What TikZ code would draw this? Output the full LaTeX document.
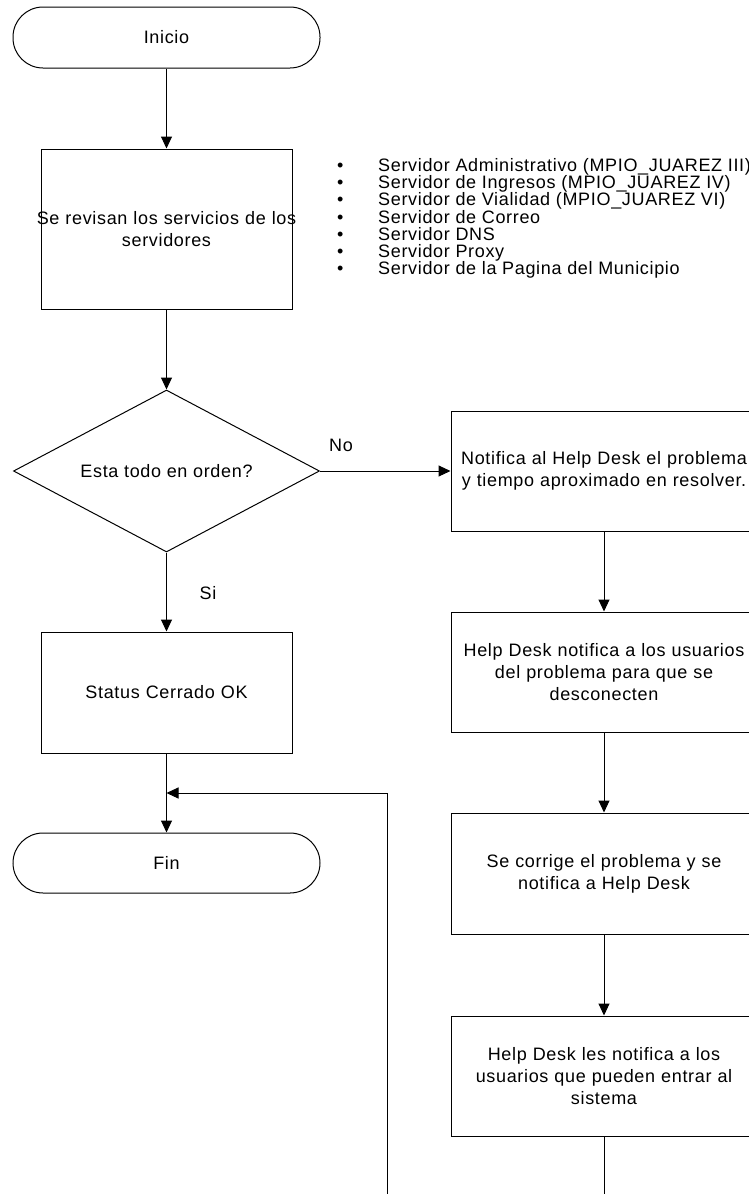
\documentclass[tikz,border=0pt]{standalone}
\usepackage{fontspec}
\setmainfont{Liberation Sans}[LetterSpace=3.7]
\usetikzlibrary{shapes.geometric,arrows.meta}
\begin{document}
\begin{tikzpicture}[x=1pt,y=-1pt,
  every node/.style={font=\fontsize{18pt}{22pt}\selectfont, inner sep=0pt},
  line/.style={line width=1pt, draw=black},
  arr/.style={line, -{Triangle[width=11pt,length=12pt]}},
  term/.style={draw, line width=1pt, rectangle, rounded corners=30pt, minimum width=307pt, minimum height=61pt},
  proc/.style={draw, line width=1pt, rectangle, align=center, minimum height=#1},
  lproc/.style={proc=#1, text width=251pt},
  rproc/.style={proc=#1, text width=306pt},
  dec/.style={draw, line width=1pt, diamond, aspect=1.89, minimum width=306pt, minimum height=162pt}]
\clip (0,0) rectangle (749,1194);
\fill[white] (0,0) rectangle (749,1194);
% left column
\node[term] (inicio) at (166.5,37.5) {Inicio};
\node[lproc=160pt] (revisa) at (166.5,229) {\makebox[0pt]{Se revisan los servicios de los}\\servidores};
\node[dec] (dec) at (166.5,471) {Esta todo en orden?};
\node[lproc=121pt] (status) at (166.5,692.5) {Status Cerrado OK};
\node[term, minimum height=60pt] (fin) at (166.5,863) {Fin};
% right column
\node[rproc=120pt] (n1) at (604,471) {Notifica al Help Desk el problema\\y tiempo aproximado en resolver.};
\node[rproc=120pt] (n2) at (604,672) {Help Desk notifica a los usuarios\\del problema para que se\\desconecten};
\node[rproc=121pt] (n3) at (604,873.5) {Se corrige el problema y se\\notifica a Help Desk};
\node[rproc=120pt] (n4) at (604,1076) {Help Desk les notifica a los\\usuarios que pueden entrar al\\sistema};
% labels
\node (no) at (341,445) {No};
\node (si) at (208,593) {Si};
% bullet list
\foreach \t [count=\i] in {{Servidor Administrativo (MPIO\_JUAREZ III)},{Servidor de Ingresos (MPIO\_JUAREZ IV)},{Servidor de Vialidad (MPIO\_JUAREZ VI)},{Servidor de Correo},{Servidor DNS},{Servidor Proxy},{Servidor de la Pagina del Municipio}}
  \node[anchor=base west] (b\i) at (337,{171.5+17.2*(\i-1)}) {\makebox[41pt][l]{•}\t};
% coordinates
\coordinate (merge) at (166.5,793);
\coordinate (loopend) at (387,1200);
\coordinate (n4end) at (604,1200);
% connectors
\draw[arr] (inicio) -- (revisa);
\draw[arr] (revisa) -- (dec);
\draw[arr] (dec.east) -- (n1.west);
\draw[arr] (dec.south) -- (status.north);
\draw[arr] (status) -- (fin);
\draw[arr] (loopend) |- (merge);
\draw[arr] (n1) -- (n2);
\draw[arr] (n2) -- (n3);
\draw[arr] (n3) -- (n4);
\draw[line] (n4) -- (n4end);
\end{tikzpicture}
\end{document}
